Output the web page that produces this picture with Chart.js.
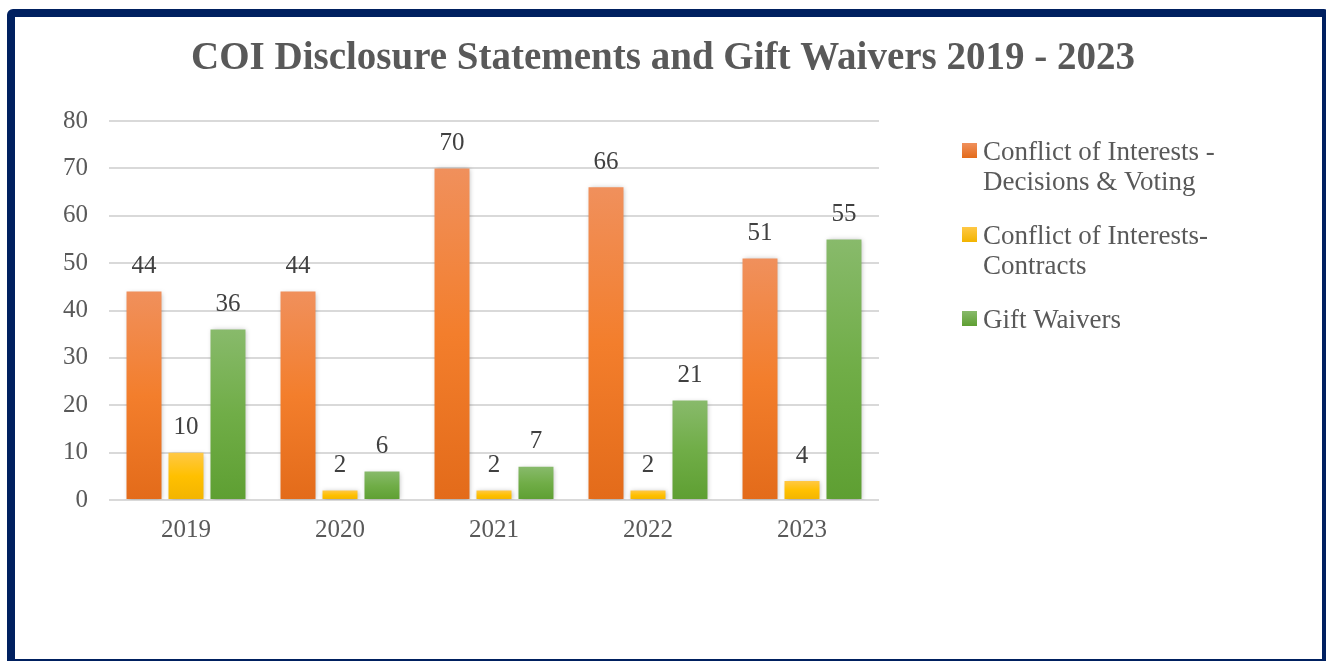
<!DOCTYPE html>
<html lang="en">
<head>
    <meta charset="UTF-8">
    <title>COI Disclosure Statements and Gift Waivers 2019 - 2023</title>
    <script src="https://cdn.jsdelivr.net/npm/chart.js"></script>
    <style>
        html, body {
            margin: 0;
            padding: 0;
            background-color: white;
            overflow: hidden;
        }
        .frame {
            position: absolute;
            left: 7px;
            top: 9px;
            width: 1323px;
            height: 658px;
            box-sizing: border-box;
            border: 8px solid #002060;
            border-radius: 6px;
        }
        .chart-container {
            position: absolute;
            left: 0;
            top: 0;
            width: 1326px;
            height: 661px;
        }
    </style>
</head>
<body>
    <div class="frame"></div>
    <div class="chart-container">
        <canvas id="coiChart"></canvas>
    </div>

    <script>
        // chart data
        const years = ['2019', '2020', '2021', '2022', '2023'];
        const decisionsVoting = [44, 44, 70, 66, 51];
        const contracts = [10, 2, 2, 2, 4];
        const giftWaivers = [36, 6, 7, 21, 55];
        const seriesNames = [
            ['Conflict of Interests -', 'Decisions & Voting'],
            ['Conflict of Interests-', 'Contracts'],
            ['Gift Waivers']
        ];
        const yTicks = [0, 10, 20, 30, 40, 50, 60, 70, 80];

        const FONT = "'Liberation Serif', 'DejaVu Serif', serif";
        const TEXT_GREY = '#595959';

        // [top, middle, bottom] colours of each bar gradient
        const barColors = [
            ['#f0905c', '#f37e2c', '#e36b1a'],
            ['#ffc845', '#ffc000', '#f2b400'],
            ['#88ba6b', '#70ad47', '#5e9f32']
        ];

        function gradientFill(i) {
            return function (context) {
                const chart = context.chart;
                const y = chart.scales.y;
                if (!chart.chartArea || !y || context.parsed === undefined) {
                    return barColors[i][1];
                }
                const top = y.getPixelForValue(context.parsed.y);
                const bottom = y.getPixelForValue(0);
                if (!isFinite(top) || top === bottom) return barColors[i][1];
                const g = chart.ctx.createLinearGradient(0, top, 0, bottom);
                g.addColorStop(0, barColors[i][0]);
                g.addColorStop(0.5, barColors[i][1]);
                g.addColorStop(1, barColors[i][2]);
                return g;
            };
        }

        // soft shadow behind the bars
        const barShadow = {
            id: 'barShadow',
            beforeDatasetsDraw(chart) {
                const ctx = chart.ctx;
                ctx.save();
                ctx.shadowColor = 'rgba(0,0,0,0.28)';
                ctx.shadowBlur = 5;
                ctx.shadowOffsetX = 1;
                ctx.shadowOffsetY = 1;
            },
            afterDatasetsDraw(chart) {
                chart.ctx.restore();
            }
        };

        // value labels above each bar
        const valueLabels = {
            id: 'valueLabels',
            afterDatasetsDraw(chart) {
                const ctx = chart.ctx;
                ctx.save();
                ctx.font = '25px ' + FONT;
                ctx.fillStyle = '#404040';
                ctx.textAlign = 'center';
                ctx.textBaseline = 'middle';
                chart.data.datasets.forEach((ds, i) => {
                    chart.getDatasetMeta(i).data.forEach((bar, j) => {
                        ctx.fillText(ds.data[j], bar.x, bar.y - 25);
                    });
                });
                ctx.restore();
            }
        };

        // legend on the right with wrapped labels
        const sideLegend = {
            id: 'sideLegend',
            afterDraw(chart) {
                const ctx = chart.ctx;
                const x = chart.chartArea.right + 83;
                let baseline = 160;
                ctx.save();
                ctx.font = '27px ' + FONT;
                ctx.textAlign = 'left';
                ctx.textBaseline = 'alphabetic';
                chart.data.datasets.forEach((ds, i) => {
                    const g = ctx.createLinearGradient(0, baseline - 17, 0, baseline - 2);
                    g.addColorStop(0, barColors[i][0]);
                    g.addColorStop(1, barColors[i][2]);
                    ctx.fillStyle = g;
                    ctx.fillRect(x, baseline - 17, 15, 15);
                    ctx.fillStyle = TEXT_GREY;
                    ds.label.forEach((line, k) => {
                        ctx.fillText(line, x + 21, baseline + k * 30);
                    });
                    baseline += 84;
                });
                ctx.restore();
            }
        };

        const datasets = [decisionsVoting, contracts, giftWaivers].map((values, i) => ({
            label: seriesNames[i],
            data: values,
            backgroundColor: gradientFill(i),
            borderWidth: 0,
            categoryPercentage: 0.818,
            barPercentage: 0.833
        }));

        const ctx = document.getElementById('coiChart').getContext('2d');
        new Chart(ctx, {
            type: 'bar',
            data: {
                labels: years,
                datasets: datasets
            },
            options: {
                responsive: true,
                maintainAspectRatio: false,
                animation: false,
                layout: {
                    padding: 0
                },
                scales: {
                    x: {
                        grid: { display: false, drawTicks: false },
                        border: { display: false },
                        ticks: {
                            color: TEXT_GREY,
                            font: { family: FONT, size: 25 },
                            padding: 15
                        },
                        afterFit(scale) { scale.height = 161; }
                    },
                    y: {
                        min: 0,
                        max: 80,
                        afterBuildTicks(scale) {
                            scale.ticks = yTicks.map(v => ({ value: v }));
                        },
                        grid: {
                            color: '#d9d9d9',
                            lineWidth: 2,
                            drawTicks: false
                        },
                        border: { display: false },
                        ticks: {
                            color: TEXT_GREY,
                            font: { family: FONT, size: 25 },
                            padding: 21
                        },
                        afterFit(scale) { scale.width = 109; }
                    },
                    // empty axis that keeps room for the legend on the right
                    legendSpace: {
                        axis: 'y',
                        position: 'right',
                        display: true,
                        grid: { display: false, drawTicks: false },
                        border: { display: false },
                        ticks: { display: false },
                        afterFit(scale) { scale.width = 447; }
                    }
                },
                plugins: {
                    legend: { display: false },
                    tooltip: { enabled: false },
                    title: {
                        display: true,
                        text: 'COI Disclosure Statements and Gift Waivers 2019 - 2023',
                        color: TEXT_GREY,
                        font: { family: FONT, size: 39, weight: 'bold' },
                        padding: { top: 36, bottom: 38.2 }
                    }
                }
            },
            plugins: [barShadow, valueLabels, sideLegend]
        });
    </script>
</body>
</html>
